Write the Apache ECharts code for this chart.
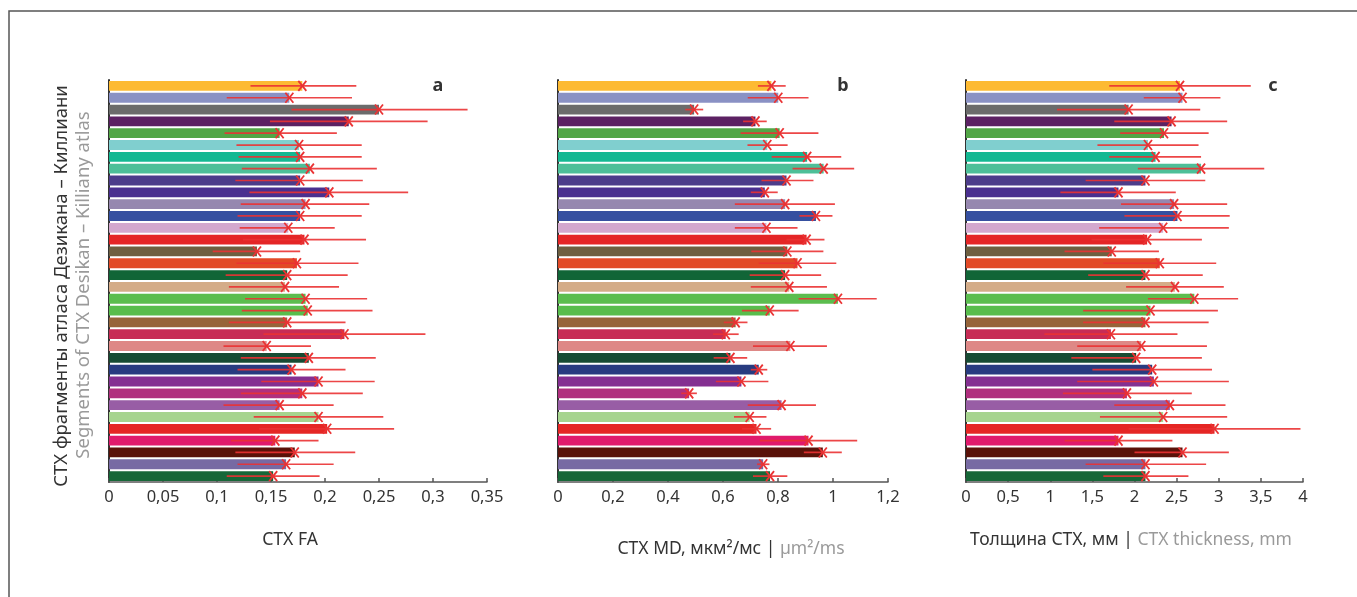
<!DOCTYPE html>
<html>
<head>
<meta charset="utf-8">
<script src="https://cdn.jsdelivr.net/npm/echarts@6/dist/echarts.min.js"></script>
<style>
  html, body { margin: 0; padding: 0; background: #fff; }
  #chart { width: 1357px; height: 597px; }
</style>
</head>
<body>
<div id="chart"></div>
<script>
// Desikan–Killiany segments, top to bottom
const categories = [
  'insula','transversetemporal','temporalpole','frontalpole','supramarginal',
  'superiortemporal','superiorparietal','superiorfrontal','rostralmiddlefrontal','rostralanteriorcingulate',
  'precuneus','precentral','posteriorcingulate','postcentral','pericalcarine',
  'parstriangularis','parsorbitalis','parsopercularis','parahippocampal','paracentral',
  'middletemporal','medialorbitofrontal','lingual','lateralorbitofrontal','lateraloccipital',
  'isthmuscingulate','inferiortemporal','inferiorparietal','fusiform','entorhinal',
  'cuneus','caudalmiddlefrontal','caudalanteriorcingulate','bankssts'
];
const colors = [
  '#FDBA33','#8A91C4','#6B6B6B','#5C2163','#52A646',
  '#80CFCF','#14B892','#4DBF98','#4C3C8A','#4A2F8F',
  '#9687AF','#3650A0','#D3A8CE','#E42526','#6E5F40',
  '#E24A27','#116537','#D4AC88','#5BBD4E','#58BD4C',
  '#966439','#C72C55','#DE8886','#174B33','#283B80',
  '#842F91','#B02F7E','#985DA5','#A6D48E','#E52624',
  '#E01A6C','#5A1209','#776AA3','#176738'
];

// Panel a: CTX FA
const faMean = [0.179,0.167,0.250,0.222,0.158,0.176,0.177,0.186,0.177,0.204,0.182,0.177,0.166,0.181,0.137,0.174,0.165,0.163,0.182,0.184,0.165,0.218,0.146,0.185,0.169,0.194,0.179,0.158,0.194,0.202,0.154,0.172,0.164,0.152];
const faLow  = [0.131,0.109,0.169,0.149,0.107,0.118,0.120,0.123,0.117,0.130,0.122,0.119,0.121,0.124,0.096,0.118,0.108,0.111,0.126,0.123,0.111,0.143,0.106,0.122,0.119,0.141,0.122,0.106,0.134,0.139,0.113,0.117,0.119,0.109];
const faHigh = [0.229,0.225,0.332,0.295,0.211,0.234,0.234,0.248,0.235,0.277,0.241,0.234,0.209,0.238,0.177,0.231,0.221,0.213,0.239,0.244,0.219,0.293,0.187,0.247,0.219,0.246,0.235,0.208,0.254,0.264,0.194,0.228,0.208,0.195];

// Panel b: CTX MD, µm²/ms
const mdMean = [0.776,0.801,0.495,0.718,0.806,0.761,0.906,0.966,0.831,0.752,0.826,0.938,0.758,0.904,0.834,0.871,0.826,0.841,1.018,0.770,0.646,0.610,0.845,0.627,0.730,0.667,0.477,0.813,0.697,0.722,0.911,0.963,0.746,0.771];
const mdLow  = [0.727,0.690,0.463,0.673,0.664,0.689,0.777,0.853,0.740,0.701,0.643,0.878,0.643,0.831,0.703,0.730,0.697,0.701,0.875,0.669,0.603,0.564,0.709,0.566,0.701,0.574,0.448,0.690,0.640,0.669,0.734,0.894,0.724,0.709];
const mdHigh = [0.828,0.911,0.528,0.759,0.947,0.835,1.030,1.077,0.929,0.799,1.007,0.998,0.871,0.969,0.965,1.012,0.957,0.978,1.159,0.875,0.689,0.657,0.978,0.688,0.761,0.765,0.505,0.938,0.758,0.775,1.088,1.032,0.769,0.834];

// Panel c: CTX thickness, mm
const thMean = [2.54,2.57,1.93,2.44,2.35,2.16,2.25,2.79,2.13,1.81,2.47,2.51,2.34,2.15,1.73,2.30,2.13,2.48,2.71,2.19,2.13,1.72,2.08,2.02,2.21,2.23,1.91,2.42,2.34,2.95,1.81,2.57,2.13,2.13];
const thLow  = [1.70,2.11,1.08,1.76,1.83,1.56,1.70,2.04,1.42,1.12,1.84,1.88,1.58,1.49,1.17,1.63,1.45,1.90,2.16,1.39,1.39,0.93,1.32,1.25,1.50,1.32,1.15,1.76,1.59,1.93,1.17,2.00,1.42,1.63];
const thHigh = [3.38,3.02,2.78,3.10,2.88,2.76,2.79,3.54,2.84,2.49,3.10,3.13,3.12,2.80,2.29,2.97,2.81,3.06,3.23,2.99,2.88,2.51,2.86,2.80,2.92,3.12,2.68,3.08,3.10,3.97,2.45,3.12,2.85,2.64];

const faTicks = { min: 0, max: 0.35, interval: 0.05 };
const mdTicks = { min: 0, max: 1.2, interval: 0.2 };
const thTicks = { min: 0, max: 4, interval: 0.5 };

const FONT = 'Noto Sans';
const ERR = '#EA3233';

const chart = echarts.init(document.getElementById('chart'), null, { renderer: 'canvas' });

const grids = [
  { left: 109, top: 80, width: 378, height: 402 },
  { left: 558, top: 80, width: 330, height: 402 },
  { left: 966, top: 80, width: 337, height: 402 }
];

function fmt(v) { return String(+v.toFixed(2)).replace('.', ','); }

function xAx(i, t) {
  return {
    gridIndex: i, type: 'value', min: t.min, max: t.max, interval: t.interval,
    axisLine: { show: true, lineStyle: { color: '#555', width: 1.5 } },
    axisTick: { show: true, inside: true, length: 4, lineStyle: { color: '#555', width: 1.5 } },
    splitLine: { show: false },
    axisLabel: { formatter: fmt, fontFamily: FONT, fontSize: 16.5, color: '#333', margin: 7 }
  };
}
function yAx(i) {
  return {
    gridIndex: i, type: 'category', data: categories, inverse: true,
    axisLine: { show: true, lineStyle: { color: '#333', width: 2 } },
    axisTick: { show: false }, axisLabel: { show: false }, splitLine: { show: false }
  };
}
function barSeries(i, vals) {
  return {
    type: 'bar', xAxisIndex: i, yAxisIndex: i, data: vals,
    barCategoryGap: '17%', silent: true,
    itemStyle: { color: p => colors[p.dataIndex] }
  };
}
function errSeries(i, low, high, mean) {
  return {
    type: 'custom', xAxisIndex: i, yAxisIndex: i, silent: true, z: 10,
    encode: { x: [0, 1, 2], y: 3 },
    data: categories.map((c, k) => [low[k], high[k], mean[k], k]),
    renderItem: (params, api) => {
      const k = api.value(3);
      const a = api.coord([api.value(0), k]);
      const b = api.coord([api.value(1), k]);
      const m = api.coord([api.value(2), k]);
      const s = 4, h = 5;
      return {
        type: 'group',
        children: [
          { type: 'line', shape: { x1: a[0], y1: a[1], x2: b[0], y2: b[1] }, style: { stroke: ERR, lineWidth: 1.7, opacity: 0.9 } },
          { type: 'line', shape: { x1: m[0] - s, y1: m[1] - h, x2: m[0] + s, y2: m[1] + h }, style: { stroke: ERR, lineWidth: 1.8 } },
          { type: 'line', shape: { x1: m[0] - s, y1: m[1] + h, x2: m[0] + s, y2: m[1] - h }, style: { stroke: ERR, lineWidth: 1.8 } }
        ]
      };
    }
  };
}

const dark = { fontFamily: FONT, fontSize: 17.5, fill: '#333' };
const grey = { fontFamily: FONT, fontSize: 17.5, fill: '#9a9a9a' };

chart.setOption({
  animation: false,
  grid: grids,
  xAxis: [xAx(0, faTicks), xAx(1, mdTicks), xAx(2, thTicks)],
  yAxis: [yAx(0), yAx(1), yAx(2)],
  series: [
    barSeries(0, faMean), errSeries(0, faLow, faHigh, faMean),
    barSeries(1, mdMean), errSeries(1, mdLow, mdHigh, mdMean),
    barSeries(2, thMean), errSeries(2, thLow, thHigh, thMean)
  ],
  graphic: [
    { type: 'rect', shape: { x: 9, y: 11, width: 1400, height: 700 }, style: { fill: 'none', stroke: '#555', lineWidth: 1.5 }, silent: true },
    { type: 'text', x: 62, y: 286, rotation: Math.PI / 2,
      style: { text: 'СТХ фрагменты атласа Дезикана – Киллиани', fontFamily: FONT, fontSize: 18.5, fill: '#333', align: 'center', verticalAlign: 'middle' } },
    { type: 'text', x: 84, y: 285, rotation: Math.PI / 2,
      style: { text: 'Segments of CTX Desikan – Killiany atlas', fontFamily: FONT, fontSize: 18.5, fill: '#9a9a9a', align: 'center', verticalAlign: 'middle' } },
    { type: 'text', x: 438, y: 86, style: { text: 'a', fontFamily: FONT, fontSize: 18, fontWeight: 'bold', fill: '#333', align: 'center', verticalAlign: 'middle' } },
    { type: 'text', x: 843, y: 86, style: { text: 'b', fontFamily: FONT, fontSize: 18, fontWeight: 'bold', fill: '#333', align: 'center', verticalAlign: 'middle' } },
    { type: 'text', x: 1273, y: 86, style: { text: 'c', fontFamily: FONT, fontSize: 18, fontWeight: 'bold', fill: '#333', align: 'center', verticalAlign: 'middle' } },
    { type: 'text', x: 290, y: 540, style: { text: 'СТХ FA', fontFamily: FONT, fontSize: 17.5, fill: '#333', align: 'center', verticalAlign: 'middle' } },
    { type: 'text', x: 731, y: 549, style: {
      text: '{d|СТХ MD, мкм²/мс | }{g|µm²/ms}', align: 'center', verticalAlign: 'middle',
      rich: { d: dark, g: grey } } },
    { type: 'text', x: 1131, y: 540, style: {
      text: '{d|Толщина СТХ, мм | }{g|CTX thickness, mm}', align: 'center', verticalAlign: 'middle',
      rich: { d: dark, g: grey } } }
  ]
});
</script>
</body>
</html>
